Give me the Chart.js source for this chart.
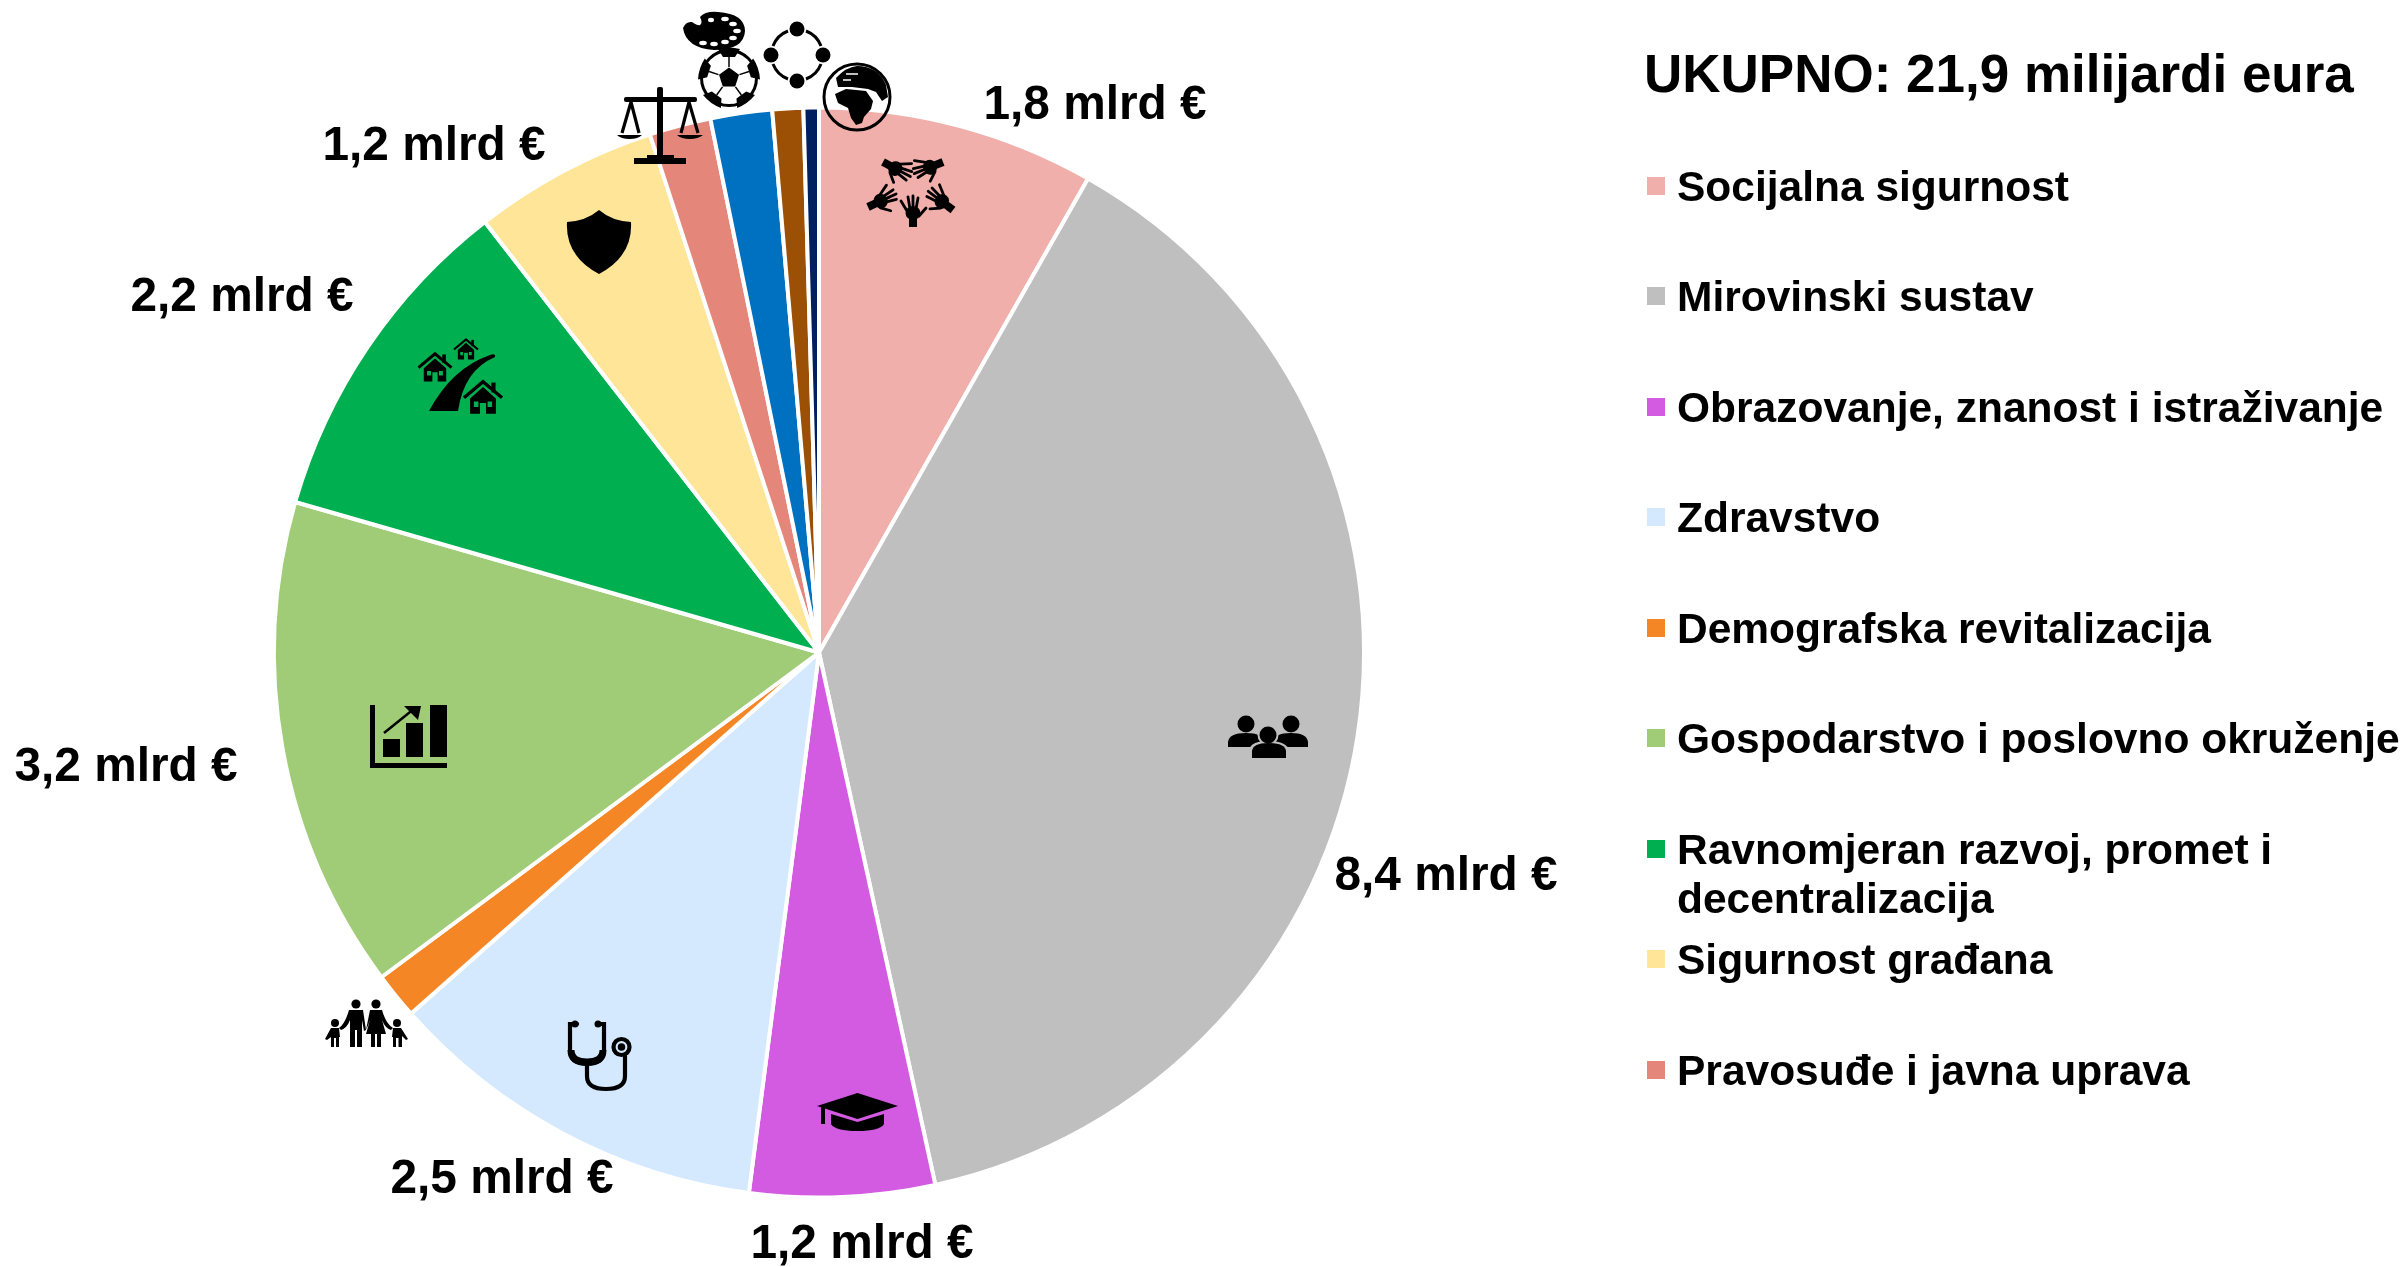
<!DOCTYPE html>
<html lang="hr">
<head>
<meta charset="utf-8">
<title>Ukupno 21,9 milijardi eura</title>
<script src="https://cdn.jsdelivr.net/npm/chart.js@4"></script>
<style>
    html, body { margin: 0; padding: 0; background: #fff; overflow: hidden; }
    #wrap { position: relative; width: 2407px; height: 1267px; }
    #pieChart { position: absolute; left: 0; top: 0; }
    #icons { position: absolute; left: 0; top: 0; pointer-events: none; }
</style>
</head>
<body>
<div id="wrap">
    <canvas id="pieChart" width="2407" height="1267"></canvas>

    <!-- Ikone preko grafa -->
    <svg id="icons" width="2407" height="1267" viewBox="0 0 2407 1267">
        <defs>
            <g id="house">
                <path d="M-50 2 L0 -40 L50 2" fill="none" stroke="#000" stroke-width="9"/>
                <rect x="22" y="-38" width="11" height="26"/>
                <path fill-rule="evenodd" d="M-34 4 L0 -26 L34 4 V44 H8 V16 H-8 V44 H-34 Z M-24 12 V26 H-12 V12 Z M12 12 V26 H24 V12 Z"/>
            </g>
            <!-- ruka: zglob je u ishodistu, prsti prema gore -->
            <g id="hand">
                <rect x="-4" y="-9" width="8" height="9"/>
                <ellipse cx="0" cy="-14" rx="7.5" ry="7"/>
                <g fill="none" stroke="#000" stroke-width="2.8" stroke-linecap="round">
                    <path d="M-6 -16 L-12 -26"/>
                    <path d="M-3 -18 L-5 -30"/>
                    <path d="M0 -18 L0 -31"/>
                    <path d="M3 -18 L5 -29"/>
                    <path d="M6 -11 L13 -19"/>
                </g>
            </g>
            <g id="ballPatch">
                <path d="M-11 -29 Q0 -32 11 -29 L6 -21 H-6 Z"/>
                <path d="M0 -21 V-11" stroke="#000" stroke-width="1.5"/>
            </g>
        </defs>

        <!-- paleta -->
        <path d="M683 28 Q686 21 692 22 Q698 26 700 25 Q703 23 700 17 Q705 11 718 12 Q745 14 745 31 Q744 50 714 50 Q686 48 683 28 Z"/>
        <g fill="#fff">
            <ellipse cx="711" cy="20" rx="3" ry="2.2"/><ellipse cx="725" cy="19" rx="3.8" ry="2.2"/>
            <ellipse cx="733" cy="24" rx="3.8" ry="2.2"/><ellipse cx="737" cy="31" rx="3.8" ry="2.2"/>
            <ellipse cx="733" cy="38" rx="3.8" ry="2.2"/><ellipse cx="725" cy="42" rx="3.8" ry="2.2"/>
            <ellipse cx="714" cy="44" rx="3.8" ry="2.2"/><ellipse cx="703" cy="43" rx="3.8" ry="2.2"/>
        </g>

        <!-- krug s lukovima -->
        <circle cx="797" cy="29" r="7.5"/><circle cx="797" cy="81" r="7.5"/>
        <circle cx="771" cy="55" r="7.5"/><circle cx="823" cy="55" r="7.5"/>
        <g fill="none" stroke="#000" stroke-width="3">
            <path d="M806 31 A26 26 0 0 1 821 46"/>
            <path d="M821 64 A26 26 0 0 1 806 79"/>
            <path d="M788 79 A26 26 0 0 1 773 64"/>
            <path d="M773 46 A26 26 0 0 1 788 31"/>
        </g>

        <!-- lopta -->
        <g transform="translate(729 78)">
            <circle r="27.5" fill="#fff" stroke="#000" stroke-width="3"/>
            <path d="M0 -10.5 L10 -3.2 L6.2 8.5 H-6.2 L-10 -3.2 Z"/>
            <use href="#ballPatch"/>
            <use href="#ballPatch" transform="rotate(72)"/>
            <use href="#ballPatch" transform="rotate(144)"/>
            <use href="#ballPatch" transform="rotate(216)"/>
            <use href="#ballPatch" transform="rotate(288)"/>
        </g>

        <!-- globus -->
        <circle cx="857" cy="97" r="33" fill="none" stroke="#000" stroke-width="3"/>
        <path d="M836 78 Q846 67 857 66 Q878 66 886 85 L888 97 L882 101 L876 92 L868 89 L852 87 L838 87 Z"/>
        <path d="M835 94 L846 89 L866 91 L873 101 L871 109 L864 117 L862 123 L856 125 L851 118 L848 108 L838 103 Z"/>
        <path d="M846 74 H858 M843 80 H851" stroke="#fff" stroke-width="1.6" fill="none"/>

        <!-- vaga -->
        <rect x="657" y="87" width="6" height="72" rx="2"/>
        <rect x="624" y="97" width="73" height="5" rx="2"/>
        <path d="M647 155 H674 V158 H686 V164 H634 V158 H647 Z"/>
        <path d="M631 102 L622 133 M631 102 L639 133 M689 102 L681 133 M689 102 L698 133" stroke="#000" stroke-width="3.2" fill="none"/>
        <path d="M617 135 H642 Q638 139 629.5 139 Q621 139 617 135 Z"/>
        <path d="M677 135 H703 Q698 139 690 139 Q681 139 677 135 Z"/>

        <!-- ruke -->
        <use href="#hand" transform="translate(913 227)"/>
        <use href="#hand" transform="translate(883 162) rotate(118)"/>
        <use href="#hand" transform="translate(943 162) rotate(-112) scale(-1 1)"/>
        <use href="#hand" transform="translate(868 207) rotate(65)"/>
        <use href="#hand" transform="translate(953 210) rotate(-53) scale(-1 1)"/>

        <!-- ljudi -->
        <circle cx="1246" cy="724" r="8.5"/><circle cx="1291" cy="724" r="8.5"/>
        <path d="M1228 747 V742 Q1229 733 1246 733 Q1263 733 1264 742 V747 Z"/>
        <path d="M1273 747 V742 Q1274 733 1291 733 Q1307 733 1308 742 V747 Z"/>
        <circle cx="1268" cy="735" r="10.5" fill="#BFBFBF"/>
        <path d="M1249 761 V750 Q1251 741 1268 741 Q1286 741 1289 750 V761 Z" fill="#BFBFBF"/>
        <circle cx="1268" cy="735" r="8.5"/>
        <path d="M1252 758 V751 Q1253 743 1268 743 Q1285 743 1286 751 V758 Z"/>

        <!-- kapa -->
        <path d="M857.5 1093 L898 1106 L857.5 1119 L817 1106 Z"/>
        <rect x="821" y="1106" width="4" height="18"/>
        <path d="M831 1114 L857.5 1122 L884 1114 V1124 Q880 1131 857.5 1131 Q835 1131 831 1124 Z"/>

        <!-- stetoskop -->
        <g fill="none" stroke="#000" stroke-width="4.2" stroke-linecap="round">
            <path d="M577 1024 H570 V1050 Q570 1064 587 1064 Q604 1064 604 1050 V1024 H597"/>
            <path d="M587 1064 V1076 Q587 1089 606 1089 Q625 1089 625 1076 V1056"/>
            <circle cx="621.5" cy="1047" r="8"/>
        </g>
        <path d="M571 1050 Q571 1062 587 1062 Q603 1062 603 1050" fill="none" stroke="#000" stroke-width="7"/>
        <circle cx="621.5" cy="1047" r="3.8"/>
        <circle cx="575" cy="1024" r="3.5"/><circle cx="598" cy="1024" r="3.5"/>

        <!-- obitelj -->
        <g>
            <circle cx="335" cy="1023" r="4"/><circle cx="397" cy="1023" r="4"/>
            <circle cx="356" cy="1004" r="4.6"/><circle cx="376" cy="1004" r="4.6"/>
            <path d="M349 1010 H363 L366 1030 L364 1031 L362 1020 V1047 H357 V1030 H355 V1047 H350 V1020 Q347 1028 341 1030 L339 1028 Q345 1024 349 1010 Z"/>
            <path d="M370 1010 H382 Q386 1024 393 1028 L391 1030 Q385 1028 382 1020 L386 1034 H381 V1047 H377 V1034 H375 V1047 H371 V1034 H366 L370 1020 Q368 1026 366 1030 Z"/>
            <path d="M331 1028 H339 L340 1037 H339 V1047 H336 V1038 H334 V1047 H331 V1037 L327 1040 L325 1039 Z"/>
            <path d="M393 1028 H401 L408 1039 L406 1040 L402 1036 V1047 H398.5 V1038 H396 V1047 H393 V1037 L392 1037 Z"/>
        </g>

        <!-- ceste i kuce -->
        <path d="M429 411 Q452 368 490 355 Q496 353 495 357 Q464 370 458 411 Z"/>
        <use href="#house" transform="translate(466 349) scale(0.24)"/>
        <use href="#house" transform="translate(435 367) scale(0.33)"/>
        <use href="#house" transform="translate(483 397) scale(0.38)"/>

        <!-- stit -->
        <path d="M599 210 Q612 221 631 222 Q633 256 599 274 Q565 256 567 222 Q586 221 599 210 Z"/>

        <!-- graf rasta -->
        <path d="M370 705 H375 V763 H447 V768 H370 Z"/>
        <rect x="383" y="739" width="17" height="18"/>
        <rect x="406" y="723" width="17" height="34"/>
        <rect x="430" y="705" width="17" height="52"/>
        <path d="M384 733 L415 708" stroke="#000" stroke-width="2.5" fill="none"/>
        <path d="M404 706 H421 L418 720 Z"/>
    </svg>
</div>

<script>
// Podaci grafa
const categories = [
    'Socijalna sigurnost',
    'Mirovinski sustav',
    'Obrazovanje, znanost i istraživanje',
    'Zdravstvo',
    'Demografska revitalizacija',
    'Gospodarstvo i poslovno okruženje',
    ['Ravnomjeran razvoj, promet i', 'decentralizacija'],
    'Sigurnost građana',
    'Pravosuđe i javna uprava',
    'Ostalo 1',
    'Ostalo 2',
    'Ostalo 3'
];
const values = [1.8, 8.4, 1.2, 2.5, 0.3, 3.2, 2.2, 1.2, 0.4, 0.4, 0.2, 0.1];
const sliceColors = ['#F0AFAA', '#BFBFBF', '#D35BE1', '#D5E9FE', '#F58625', '#A0CC78',
                     '#00AF50', '#FEE597', '#E5867B', '#0070C0', '#9C5006', '#002060'];
const legendTitle = 'UKUPNO: 21,9 milijardi eura';
const legendCount = 9;

// Oznake vrijednosti: indeks kriske -> sredina teksta
const valueLabelSpots = {
    0: [1095, 106],
    1: [1446, 877],
    2: [862, 1245],
    3: [502, 1180],
    5: [126, 768],
    6: [242, 298],
    7: [434, 147]
};

const FONT = '"Liberation Sans", Arial, sans-serif';

function valueLabel(v) {
    return v.toFixed(1).replace('.', ',') + ' mlrd €';
}

// Oznake uz kriske
const valueLabelsPlugin = {
    id: 'valueLabels',
    afterDatasetsDraw(chart) {
        const ctx = chart.ctx;
        ctx.save();
        ctx.fillStyle = '#000';
        ctx.font = 'bold 47.8px ' + FONT;
        ctx.textAlign = 'center';
        ctx.textBaseline = 'middle';
        Object.keys(valueLabelSpots).forEach(i => {
            const spot = valueLabelSpots[i];
            ctx.fillText(valueLabel(values[i]), spot[0], spot[1]);
        });
        ctx.restore();
    }
};

// Legenda desno, rucno zbog razmaka i prelamanja retka
const sideLegendPlugin = {
    id: 'sideLegend',
    afterDraw(chart) {
        const ctx = chart.ctx;
        const rows = [189, 299, 410, 520, 631, 741, 852, 962, 1073];
        const boxes = [186, 296, 407, 517, 628, 738, 849, 959, 1070];
        ctx.save();
        ctx.fillStyle = '#000';
        ctx.textBaseline = 'middle';
        ctx.textAlign = 'left';
        ctx.font = 'bold 53px ' + FONT;
        ctx.fillText(legendTitle, 1644, 77);

        ctx.font = 'bold 42.5px ' + FONT;
        for (let i = 0; i < legendCount; i++) {
            ctx.fillStyle = sliceColors[i];
            ctx.fillRect(1647, boxes[i] - 9, 18, 18);
            ctx.fillStyle = '#000';
            const lines = Array.isArray(categories[i]) ? categories[i] : [categories[i]];
            lines.forEach((line, n) => ctx.fillText(line, 1677, rows[i] + n * 49));
        }
        ctx.restore();
    }
};

const pieChart = new Chart(document.getElementById('pieChart').getContext('2d'), {
    type: 'pie',
    data: {
        labels: categories,
        datasets: [{
            data: values,
            backgroundColor: sliceColors,
            borderColor: '#FFFFFF',
            borderWidth: 4
        }]
    },
    options: {
        responsive: false,
        animation: false,
        layout: {
            padding: { left: 272, right: 1041, top: 105, bottom: 67 }
        },
        plugins: {
            legend: { display: false },
            tooltip: { enabled: false }
        }
    },
    plugins: [valueLabelsPlugin, sideLegendPlugin]
});
</script>
</body>
</html>
